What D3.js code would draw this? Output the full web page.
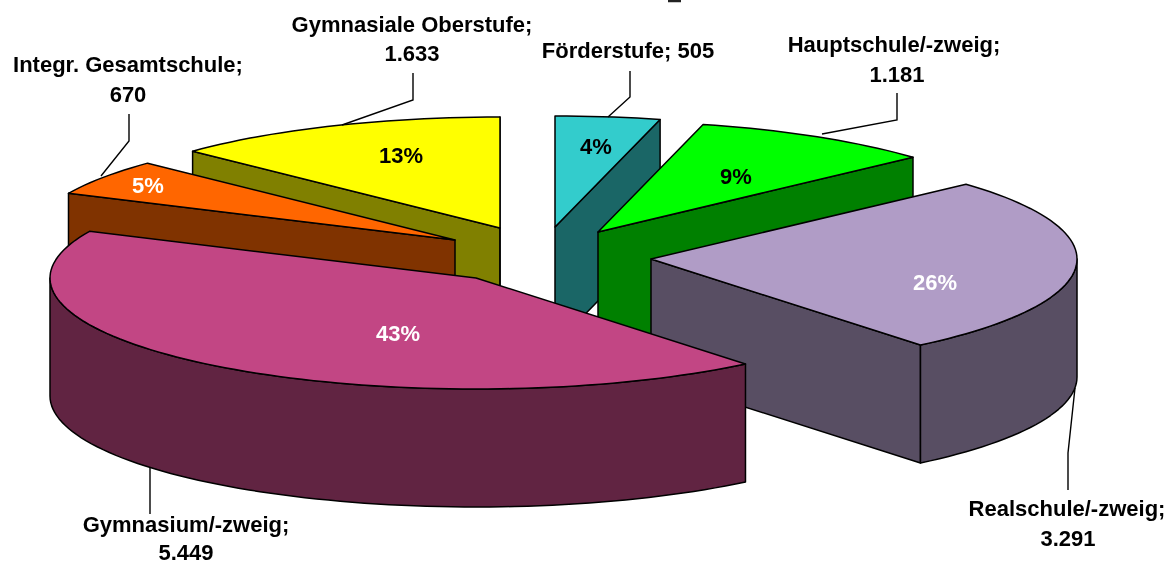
<!DOCTYPE html>
<html><head><meta charset="utf-8">
<script src="https://cdn.jsdelivr.net/npm/d3@7"></script>
<style>html,body{margin:0;padding:0;background:#fff;overflow:hidden}svg{display:block;filter:blur(0.4px)}
text{font-family:"Liberation Sans",Arial,sans-serif;font-weight:bold}</style></head>
<body><svg id="c" width="1173" height="561"></svg>
<script>
// Data, clockwise from twelve o'clock
const categories = ["Förderstufe","Hauptschule/-zweig","Realschule/-zweig","Gymnasium/-zweig","Integr. Gesamtschule","Gymnasiale Oberstufe"];
const values = [505,1181,3291,5449,670,1633];
const topColors = ["#33cccc","#00ff00","#b09cc6","#c24684","#ff6600","#ffff00"];
const wallColors = ["#1a6666","#008000","#584e63","#612442","#803300","#808000"];
const pctColors = ["#000","#000","#fff","#fff","#fff","#000"];

// Layout of the exploded 3-D pie
const W=1173,H=561, RX=426, RY=111, DEPTH=118;
const layout = [
 {cx:555,cy:227, pct:[596,146], lab:[[628,50]], leader:[[608,117],[630,97],[630,71]]},
 {cx:598,cy:232, pct:[736,176], lab:[[894,44],[897,74]], leader:[[822,134],[897,120],[897,93]]},
 {cx:651,cy:259, pct:[935,282], lab:[[1067,508],[1068,538]], leader:[[1075,388],[1068,453],[1068,490]]},
 {cx:476,cy:278, pct:[398,333], lab:[[186,524],[186,552]], leader:[[150,468],[150,514]]},
 {cx:455,cy:240, pct:[148,185], lab:[[128,64],[128,94]], leader:[[101,176],[129,141],[129,114]]},
 {cx:500,cy:228, pct:[401,155], lab:[[412,24],[412,53]], leader:[[342,125],[413,100],[413,73]]}
];
const order = [5,0,4,1,2,3]; // back to front

const de = d3.formatLocale({decimal:",",thousands:".",grouping:[3],currency:["","€"]});
const fmt = de.format(",d"), pctFmt = d3.format(".0%");
const total = d3.sum(values);
const arcs = d3.pie().sort(null).startAngle(0).endAngle(2*Math.PI)(values);

const svg = d3.select("#c");
const line = d3.line();
const STROKE=1.5, FONT=22;

function pt(l,a,dz=0){return [l.cx+RX*Math.sin(a), l.cy-RY*Math.cos(a)+dz];}
function sample(a0,a1){const n=Math.max(2,Math.ceil((a1-a0)/0.03));return d3.range(n+1).map(i=>a0+(a1-a0)*i/n);}

order.forEach(i=>{
  const l=layout[i], a=arcs[i], g=svg.append("g");
  const a0=a.startAngle,a1=a.endAngle;
  const wall=pts=>g.append("path").attr("d",line(pts)+"Z").attr("fill",wallColors[i]).attr("stroke","#000").attr("stroke-width",STROKE).attr("stroke-linejoin","round");
  const apex=[l.cx,l.cy], apexB=[l.cx,l.cy+DEPTH];
  // radial cut faces: the start face shows when it points down, the end face likewise
  if(Math.cos(a0)>0 && Math.sin(a0)<0) wall([apex,pt(l,a0),pt(l,a0,DEPTH),apexB]);
  if(Math.sin(a1)>0 && a1<Math.PI)    wall([apex,pt(l,a1),pt(l,a1,DEPTH),apexB]);
  if(i===5){ wall([apex,pt(l,a1),pt(l,a1,DEPTH),apexB]); }
  // outer rim, front half only
  const r0=Math.max(a0,Math.PI/2), r1=Math.min(a1,3*Math.PI/2);
  if(r1>r0){
    const s=sample(r0,r1);
    wall(s.map(t=>pt(l,t)).concat(s.slice().reverse().map(t=>pt(l,t,DEPTH))));
  }
  // top face
  g.append("path").attr("d",line([apex].concat(sample(a0,a1).map(t=>pt(l,t))))+"Z")
    .attr("fill",topColors[i]).attr("stroke","#000").attr("stroke-width",STROKE).attr("stroke-linejoin","round");
});

// leaders
categories.forEach((c,i)=>{
  svg.append("path").attr("d",line(layout[i].leader)).attr("fill","none").attr("stroke","#000").attr("stroke-width",1.4);
});
// percent labels
categories.forEach((c,i)=>{
  svg.append("text").attr("x",layout[i].pct[0]).attr("y",layout[i].pct[1]+8).attr("text-anchor","middle")
    .attr("font-size",FONT).attr("fill",pctColors[i]).text(pctFmt(values[i]/total));
});
// category labels
categories.forEach((c,i)=>{
  const lab=layout[i].lab;
  const lines = lab.length===1 ? [c+"; "+fmt(values[i])] : [c+";",fmt(values[i])];
  lines.forEach((t,k)=>{
    svg.append("text").attr("x",lab[k][0]).attr("y",lab[k][1]+8).attr("text-anchor","middle")
      .attr("font-size",FONT).attr("fill","#000").text(t);
  });
});
// clipped remnant of a title at the very top edge
svg.append("line").attr("x1",668).attr("x2",681).attr("y1",1).attr("y2",1).attr("stroke","#222").attr("stroke-width",2.5);
</script></body></html>
